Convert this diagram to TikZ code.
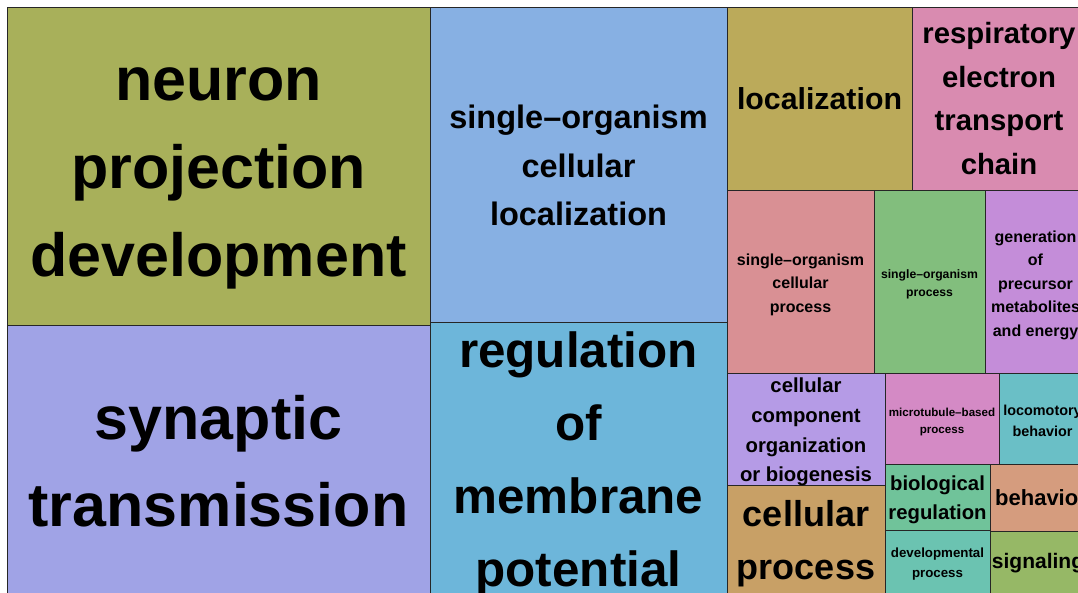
\documentclass[tikz,border=0pt]{standalone}
\usepackage{fontspec}
\setmainfont{Liberation Sans}
\definecolor{cNeu}{HTML}{A8B05A}
\definecolor{cSyn}{HTML}{A0A3E6}
\definecolor{cScl}{HTML}{87B0E3}
\definecolor{cRmp}{HTML}{6DB6DA}
\definecolor{cLoc}{HTML}{BBAA5A}
\definecolor{cRes}{HTML}{D98BB0}
\definecolor{cScp}{HTML}{D99094}
\definecolor{cSop}{HTML}{82BE7D}
\definecolor{cGen}{HTML}{C48DD9}
\definecolor{cCco}{HTML}{B59BE6}
\definecolor{cMic}{HTML}{D48AC5}
\definecolor{cLmb}{HTML}{6ABFC6}
\definecolor{cCpr}{HTML}{C8A066}
\definecolor{cBio}{HTML}{70C39A}
\definecolor{cBeh}{HTML}{D59C7E}
\definecolor{cDev}{HTML}{6BC3B1}
\definecolor{cSig}{HTML}{96B866}
\tikzset{
  box/.style={draw=black!85, line width=1pt, inner sep=0pt, rectangle},
  txt/.style={inner sep=0pt, align=center},
  fs/.style 2 args={font=\bfseries\fontsize{#1}{#2}\selectfont},
  wh/.style 2 args={minimum width=#1, minimum height=#2}
}
\begin{document}
\begin{tikzpicture}[x=1pt,y=-1pt]
\useasboundingbox (0,0) rectangle (1078,592);
\clip (0,0) rectangle (1078,592);
% boxes
\node[box, fill=cNeu, wh={423pt}{318pt}] (neu) at (218.5,166) {};
\node[box, fill=cSyn, wh={423pt}{272pt}] (syn) at (218.5,461) {};
\node[box, fill=cScl, wh={297pt}{315pt}] (scl) at (578.5,164.5) {};
\node[box, fill=cRmp, wh={297pt}{275pt}] (rmp) at (578.5,459.5) {};
\node[box, fill=cLoc, wh={185pt}{183pt}] (loc) at (819.5,98.5) {};
\node[box, fill=cRes, wh={174pt}{183pt}] (res) at (999,98.5) {};
\node[box, fill=cScp, wh={147pt}{183pt}] (scp) at (800.5,281.5) {};
\node[box, fill=cSop, wh={111pt}{183pt}] (sop) at (929.5,281.5) {};
\node[box, fill=cGen, wh={101pt}{183pt}] (gen) at (1035.5,281.5) {};
\node[box, fill=cCco, wh={158pt}{112pt}] (cco) at (806,429) {};
\node[box, fill=cMic, wh={114pt}{91pt}] (mic) at (942,418.5) {};
\node[box, fill=cLmb, wh={87pt}{91pt}] (lmb) at (1042.5,418.5) {};
\node[box, fill=cCpr, wh={158pt}{112pt}] (cpr) at (806,541) {};
\node[box, fill=cBio, wh={105pt}{66pt}] (bio) at (937.5,497) {};
\node[box, fill=cBeh, wh={96pt}{67pt}] (beh) at (1038,497.5) {};
\node[box, fill=cDev, wh={105pt}{67pt}] (dev) at (937.5,563.5) {};
\node[box, fill=cSig, wh={96pt}{66pt}] (sig) at (1038,564) {};
% labels
\node[txt, fs={61}{88}] (neuT) at ([yshift=-12pt]neu.center) {neuron\\projection\\development};
\node[txt, fs={61}{87}] (synT) at (syn.center) {synaptic\\transmission};
\node[txt, fs={32.5}{48.5}] (sclT) at ([yshift=-1pt]scl.center) {single–organism\\cellular\\localization};
\node[txt, fs={49.4}{73}] (rmpT) at ([yshift=-5pt]rmp.center) {regulation\\of\\membrane\\potential};
\node[txt, fs={30.3}{44}] (locT) at (loc.center) {localization};
\node[txt, fs={29.3}{43.5}] (resT) at (res.center) {respiratory\\electron\\transport\\chain};
\node[txt, fs={16}{23.5}] (scpT) at ([yshift=-3pt]scp.center) {single–organism\\cellular\\process};
\node[txt, fs={12.2}{18}] (sopT) at ([yshift=-3pt]sop.center) {single–organism\\process};
\node[txt, fs={16}{23.5}] (genT) at ([yshift=-3.5pt]gen.center) {generation\\of\\precursor\\metabolites\\and energy};
\node[txt, fs={20.3}{29.7}] (ccoT) at ([yshift=-3pt]cco.center) {cellular\\component\\organization\\or biogenesis};
\node[txt, fs={11.6}{17}] (micT) at ([yshift=-3pt]mic.center) {microtubule–based\\process};
\node[txt, fs={14.4}{21}] (lmbT) at ([yshift=-2pt]lmb.center) {locomotory\\behavior};
\node[txt, fs={36}{53}] (cprT) at ([yshift=-3pt]cpr.center) {cellular\\process};
\node[txt, fs={20.3}{29}] (bioT) at ([yshift=-3pt]bio.center) {biological\\regulation};
\node[txt, fs={22}{30}] (behT) at ([xshift=3pt]beh.center) {behavior};
\node[txt, fs={13.3}{20}] (devT) at ([yshift=-1pt]dev.center) {developmental\\process};
\node[txt, fs={21}{30}] (sigT) at ([yshift=1pt]sig.center) {signaling};
\end{tikzpicture}
\end{document}
